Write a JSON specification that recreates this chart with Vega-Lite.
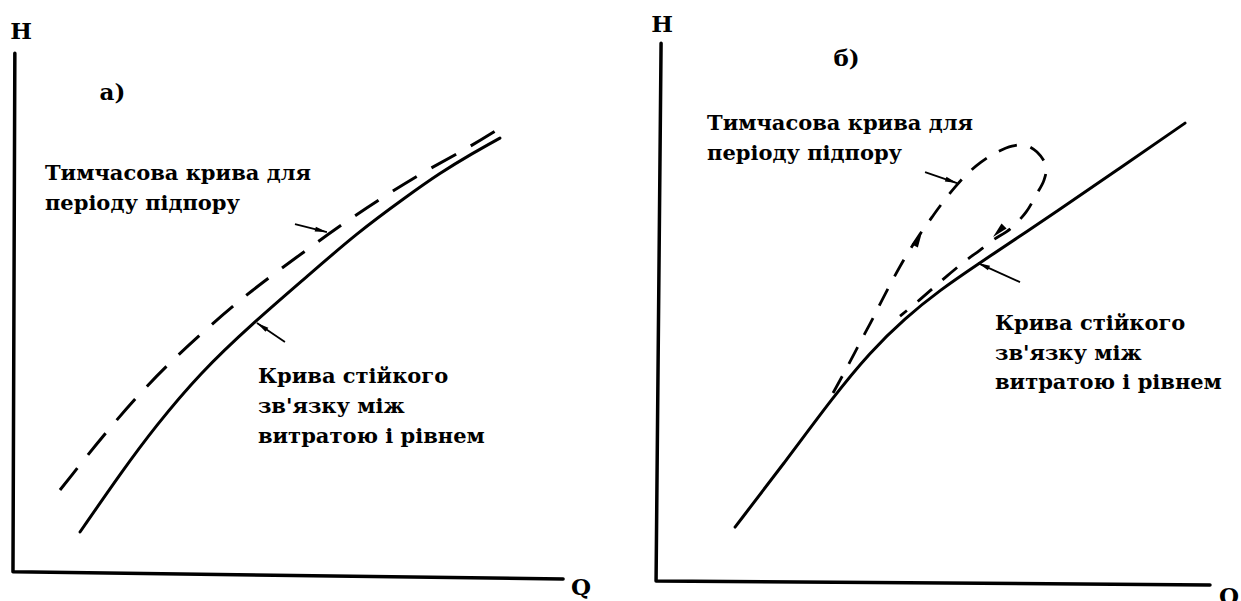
{
  "$schema": "https://vega.github.io/schema/vega-lite/v6.json",
  "padding": 0,
  "background": "white",
  "spacing": 10,
  "config": {
    "view": {"stroke": null}
  },
  "datasets": {
    "axes": [
      {"panel": "a", "order": 1, "Q": 0.2, "H": 94.3},
      {"panel": "a", "order": 2, "Q": -0.14, "H": 0},
      {"panel": "a", "order": 3, "Q": 99.9, "H": -1.3},
      {"panel": "b", "order": 1, "Q": 0.55, "H": 97.85},
      {"panel": "b", "order": 2, "Q": -0.36, "H": 0.04},
      {"panel": "b", "order": 3, "Q": 100.36, "H": -0.69}
    ],
    "curves": [
      {"panel": "a", "curve": "steady", "order": 1, "Q": 12.05, "H": 7.25},
      {"panel": "a", "curve": "steady", "order": 2, "Q": 19.86, "H": 18.53},
      {"panel": "a", "curve": "steady", "order": 3, "Q": 25.68, "H": 26.35},
      {"panel": "a", "curve": "steady", "order": 4, "Q": 33.86, "H": 36.16},
      {"panel": "a", "curve": "steady", "order": 5, "Q": 43.5, "H": 45.25},
      {"panel": "a", "curve": "steady", "order": 6, "Q": 53.32, "H": 53.7},
      {"panel": "a", "curve": "steady", "order": 7, "Q": 62.41, "H": 61.62},
      {"panel": "a", "curve": "steady", "order": 8, "Q": 71.5, "H": 68.3},
      {"panel": "a", "curve": "steady", "order": 9, "Q": 77.5, "H": 72.53},
      {"panel": "a", "curve": "steady", "order": 10, "Q": 83.5, "H": 76.16},
      {"panel": "a", "curve": "steady", "order": 11, "Q": 88.41, "H": 78.89},

      {"panel": "a", "curve": "backwater", "order": 1, "Q": 8.41, "H": 14.89},
      {"panel": "a", "curve": "backwater", "order": 2, "Q": 22.41, "H": 32.53},
      {"panel": "a", "curve": "backwater", "order": 3, "Q": 35.32, "H": 44.53},
      {"panel": "a", "curve": "backwater", "order": 4, "Q": 43.32, "H": 51.25},
      {"panel": "a", "curve": "backwater", "order": 5, "Q": 51.5, "H": 57.25},
      {"panel": "a", "curve": "backwater", "order": 6, "Q": 58.95, "H": 62.71},
      {"panel": "a", "curve": "backwater", "order": 7, "Q": 67.14, "H": 68.16},
      {"panel": "a", "curve": "backwater", "order": 8, "Q": 74.77, "H": 72.89},
      {"panel": "a", "curve": "backwater", "order": 9, "Q": 82.59, "H": 77.07},
      {"panel": "a", "curve": "backwater", "order": 10, "Q": 87.86, "H": 80.35},

      {"panel": "b", "curve": "steady", "order": 1, "Q": 14.0, "H": 9.85},
      {"panel": "b", "curve": "steady", "order": 2, "Q": 23.09, "H": 21.67},
      {"panel": "b", "curve": "steady", "order": 3, "Q": 31.82, "H": 33.49},
      {"panel": "b", "curve": "steady", "order": 4, "Q": 38.55, "H": 41.67},
      {"panel": "b", "curve": "steady", "order": 5, "Q": 44.91, "H": 47.85},
      {"panel": "b", "curve": "steady", "order": 6, "Q": 51.27, "H": 52.95},
      {"panel": "b", "curve": "steady", "order": 7, "Q": 58.18, "H": 57.67},
      {"panel": "b", "curve": "steady", "order": 8, "Q": 65.82, "H": 62.76},
      {"panel": "b", "curve": "steady", "order": 9, "Q": 71.82, "H": 66.76},
      {"panel": "b", "curve": "steady", "order": 10, "Q": 84.0, "H": 75.13},
      {"panel": "b", "curve": "steady", "order": 11, "Q": 95.82, "H": 83.31},

      {"panel": "b", "curve": "backwater", "order": 1, "Q": 31.82, "H": 34.22},
      {"panel": "b", "curve": "backwater", "order": 2, "Q": 34.0, "H": 38.22},
      {"panel": "b", "curve": "backwater", "order": 3, "Q": 35.82, "H": 41.67},
      {"panel": "b", "curve": "backwater", "order": 4, "Q": 37.45, "H": 44.76},
      {"panel": "b", "curve": "backwater", "order": 5, "Q": 39.09, "H": 47.85},
      {"panel": "b", "curve": "backwater", "order": 6, "Q": 40.73, "H": 51.13},
      {"panel": "b", "curve": "backwater", "order": 7, "Q": 42.73, "H": 54.95},
      {"panel": "b", "curve": "backwater", "order": 8, "Q": 45.09, "H": 59.13},
      {"panel": "b", "curve": "backwater", "order": 9, "Q": 47.64, "H": 63.13},
      {"panel": "b", "curve": "backwater", "order": 10, "Q": 49.82, "H": 66.22},
      {"panel": "b", "curve": "backwater", "order": 11, "Q": 51.82, "H": 68.95},
      {"panel": "b", "curve": "backwater", "order": 12, "Q": 54.0, "H": 71.67},
      {"panel": "b", "curve": "backwater", "order": 13, "Q": 56.18, "H": 74.04},
      {"panel": "b", "curve": "backwater", "order": 14, "Q": 58.73, "H": 76.22},
      {"panel": "b", "curve": "backwater", "order": 15, "Q": 61.64, "H": 78.04},
      {"panel": "b", "curve": "backwater", "order": 16, "Q": 64.36, "H": 79.13},
      {"panel": "b", "curve": "backwater", "order": 17, "Q": 66.73, "H": 79.31},
      {"panel": "b", "curve": "backwater", "order": 18, "Q": 68.91, "H": 78.04},
      {"panel": "b", "curve": "backwater", "order": 19, "Q": 70.55, "H": 75.49},
      {"panel": "b", "curve": "backwater", "order": 20, "Q": 70.18, "H": 72.95},
      {"panel": "b", "curve": "backwater", "order": 21, "Q": 68.73, "H": 70.22},
      {"panel": "b", "curve": "backwater", "order": 22, "Q": 66.91, "H": 67.13},
      {"panel": "b", "curve": "backwater", "order": 23, "Q": 64.0, "H": 64.04},
      {"panel": "b", "curve": "backwater", "order": 24, "Q": 60.91, "H": 62.04},
      {"panel": "b", "curve": "backwater", "order": 25, "Q": 58.55, "H": 60.22},
      {"panel": "b", "curve": "backwater", "order": 26, "Q": 55.82, "H": 58.22},
      {"panel": "b", "curve": "backwater", "order": 27, "Q": 52.73, "H": 55.67},
      {"panel": "b", "curve": "backwater", "order": 28, "Q": 49.82, "H": 53.13},
      {"panel": "b", "curve": "backwater", "order": 29, "Q": 47.09, "H": 50.76},
      {"panel": "b", "curve": "backwater", "order": 30, "Q": 44.0, "H": 48.2}
    ],
    "arrows": [
      {"panel": "a", "arrow": "a1", "order": 1, "Q": 51.14, "H": 63.25},
      {"panel": "a", "arrow": "a1", "order": 2, "Q": 56.95, "H": 61.8},
      {"panel": "a", "arrow": "a2", "order": 1, "Q": 49.32, "H": 41.8},
      {"panel": "a", "arrow": "a2", "order": 2, "Q": 44.23, "H": 45.25},
      {"panel": "b", "arrow": "b1", "order": 1, "Q": 48.55, "H": 74.4},
      {"panel": "b", "arrow": "b1", "order": 2, "Q": 54.36, "H": 72.4},
      {"panel": "b", "arrow": "b2", "order": 1, "Q": 65.82, "H": 54.4},
      {"panel": "b", "arrow": "b2", "order": 2, "Q": 58.18, "H": 57.85},
      {"panel": "b", "arrow": "rise", "order": 2, "Q": 48.0, "H": 63.49},
      {"panel": "b", "arrow": "fall", "order": 2, "Q": 60.91, "H": 62.58}
    ],
    "notes": [
      {"panel": "a", "text": "Тимчасова крива для\nперіоду підпору", "Q": 5.68, "H": 71.25},
      {"panel": "a", "text": "Крива стійкого\nзв'язку між\nвитратою і рівнем", "Q": 44.41, "H": 34.35},
      {"panel": "b", "text": "Тимчасова крива для\nперіоду підпору", "Q": 8.91, "H": 82.04},
      {"panel": "b", "text": "Крива стійкого\nзв'язку між\nвитратою і рівнем", "Q": 61.27, "H": 45.67}
    ],
    "letters": [
      {"panel": "a", "text": "H", "Q": 1.32, "H": 96.89},
      {"panel": "a", "text": "Q", "Q": 103.14, "H": -4.2},
      {"panel": "a", "text": "а)", "Q": 17.95, "H": 85.8},
      {"panel": "b", "text": "H", "Q": 0.73, "H": 99.85},
      {"panel": "b", "text": "Q", "Q": 103.8, "H": -4.15},
      {"panel": "b", "text": "б)", "Q": 34.27, "H": 93.67}
    ]
  },
  "hconcat": [
    {
      "width": 620,
      "height": 601,
      "encoding": {
        "x": {"field": "Q", "type": "quantitative", "scale": {"domain": [-2.5, 110.25], "nice": false, "zero": false}, "axis": null},
        "y": {"field": "H", "type": "quantitative", "scale": {"domain": [-5.3, 104], "nice": false, "zero": false}, "axis": null}
      },
      "layer": [
        {
          "data": {"name": "axes"},
          "transform": [{"filter": "datum.panel == 'a'"}],
          "mark": {"type": "line", "color": "black", "strokeWidth": 3.5, "strokeJoin": "round", "strokeCap": "round"},
          "encoding": {"order": {"field": "order"}}
        },
        {
          "data": {"name": "curves"},
          "transform": [{"filter": "datum.panel == 'a' && datum.curve == 'steady'"}],
          "mark": {"type": "line", "color": "black", "strokeWidth": 3, "interpolate": "basis", "strokeCap": "round"},
          "encoding": {"order": {"field": "order"}}
        },
        {
          "data": {"name": "curves"},
          "transform": [{"filter": "datum.panel == 'a' && datum.curve == 'backwater'"}],
          "mark": {"type": "line", "color": "black", "strokeWidth": 3, "interpolate": "basis", "strokeDash": [28, 17]},
          "encoding": {"order": {"field": "order"}}
        },
        {
          "data": {"name": "arrows"},
          "transform": [{"filter": "datum.panel == 'a'"}],
          "mark": {"type": "line", "color": "black", "strokeWidth": 1.8},
          "encoding": {"detail": {"field": "arrow"}, "order": {"field": "order"}}
        },
        {
          "data": {"name": "arrows"},
          "transform": [{"filter": "datum.arrow == 'a1' && datum.order == 2"}],
          "mark": {"type": "point", "shape": "M0,0L0.5,2.4L-0.5,2.4Z", "size": 100, "angle": 104, "filled": true, "color": "black", "opacity": 1}
        },
        {
          "data": {"name": "arrows"},
          "transform": [{"filter": "datum.arrow == 'a2' && datum.order == 2"}],
          "mark": {"type": "point", "shape": "M0,0L0.5,2.4L-0.5,2.4Z", "size": 100, "angle": 304, "filled": true, "color": "black", "opacity": 1}
        },
        {
          "data": {"name": "notes"},
          "transform": [{"filter": "datum.panel == 'a'"}],
          "mark": {"type": "text", "font": "DejaVu Serif", "fontWeight": "bold", "color": "black", "align": "left", "baseline": "alphabetic", "fontSize": 21, "lineBreak": "\n", "lineHeight": 30},
          "encoding": {"text": {"field": "text"}}
        },
        {
          "data": {"name": "letters"},
          "transform": [{"filter": "datum.panel == 'a'"}],
          "mark": {"type": "text", "font": "DejaVu Serif", "fontWeight": "bold", "color": "black", "align": "center", "baseline": "alphabetic", "fontSize": 23},
          "encoding": {"text": {"field": "text"}}
        }
      ]
    },
    {
      "width": 611,
      "height": 601,
      "encoding": {
        "x": {"field": "Q", "type": "quantitative", "scale": {"domain": [-5.1, 106], "nice": false, "zero": false}, "axis": null},
        "y": {"field": "H", "type": "quantitative", "scale": {"domain": [-3.6, 105.7], "nice": false, "zero": false}, "axis": null}
      },
      "layer": [
        {
          "data": {"name": "axes"},
          "transform": [{"filter": "datum.panel == 'b'"}],
          "mark": {"type": "line", "color": "black", "strokeWidth": 3.5, "strokeJoin": "round", "strokeCap": "round"},
          "encoding": {"order": {"field": "order"}}
        },
        {
          "data": {"name": "curves"},
          "transform": [{"filter": "datum.panel == 'b' && datum.curve == 'steady'"}],
          "mark": {"type": "line", "color": "black", "strokeWidth": 3, "interpolate": "basis", "strokeCap": "round"},
          "encoding": {"order": {"field": "order"}}
        },
        {
          "data": {"name": "curves"},
          "transform": [{"filter": "datum.panel == 'b' && datum.curve == 'backwater'"}],
          "mark": {"type": "line", "color": "black", "strokeWidth": 2.8, "interpolate": "catmull-rom", "strokeDash": [19, 14]},
          "encoding": {"order": {"field": "order"}}
        },
        {
          "data": {"name": "arrows"},
          "transform": [{"filter": "datum.panel == 'b'"}],
          "mark": {"type": "line", "color": "black", "strokeWidth": 1.8},
          "encoding": {"detail": {"field": "arrow"}, "order": {"field": "order"}}
        },
        {
          "data": {"name": "arrows"},
          "transform": [{"filter": "datum.arrow == 'b1' && datum.order == 2"}],
          "mark": {"type": "point", "shape": "M0,0L0.5,2.4L-0.5,2.4Z", "size": 100, "angle": 109, "filled": true, "color": "black", "opacity": 1}
        },
        {
          "data": {"name": "arrows"},
          "transform": [{"filter": "datum.arrow == 'b2' && datum.order == 2"}],
          "mark": {"type": "point", "shape": "M0,0L0.5,2.4L-0.5,2.4Z", "size": 100, "angle": 294, "filled": true, "color": "black", "opacity": 1}
        },
        {
          "data": {"name": "arrows"},
          "transform": [{"filter": "datum.arrow == 'rise'"}],
          "mark": {"type": "point", "shape": "M0,0L0.55,2.4L-0.55,2.4Z", "size": 169, "angle": 28, "filled": true, "color": "black", "opacity": 1}
        },
        {
          "data": {"name": "arrows"},
          "transform": [{"filter": "datum.arrow == 'fall'"}],
          "mark": {"type": "point", "shape": "M0,0L0.55,2.4L-0.55,2.4Z", "size": 169, "angle": 225, "filled": true, "color": "black", "opacity": 1}
        },
        {
          "data": {"name": "notes"},
          "transform": [{"filter": "datum.panel == 'b'"}],
          "mark": {"type": "text", "font": "DejaVu Serif", "fontWeight": "bold", "color": "black", "align": "left", "baseline": "alphabetic", "fontSize": 21, "lineBreak": "\n", "lineHeight": 29.5},
          "encoding": {"text": {"field": "text"}}
        },
        {
          "data": {"name": "letters"},
          "transform": [{"filter": "datum.panel == 'b'"}],
          "mark": {"type": "text", "font": "DejaVu Serif", "fontWeight": "bold", "color": "black", "align": "center", "baseline": "alphabetic", "fontSize": 23},
          "encoding": {"text": {"field": "text"}}
        }
      ]
    }
  ]
}
